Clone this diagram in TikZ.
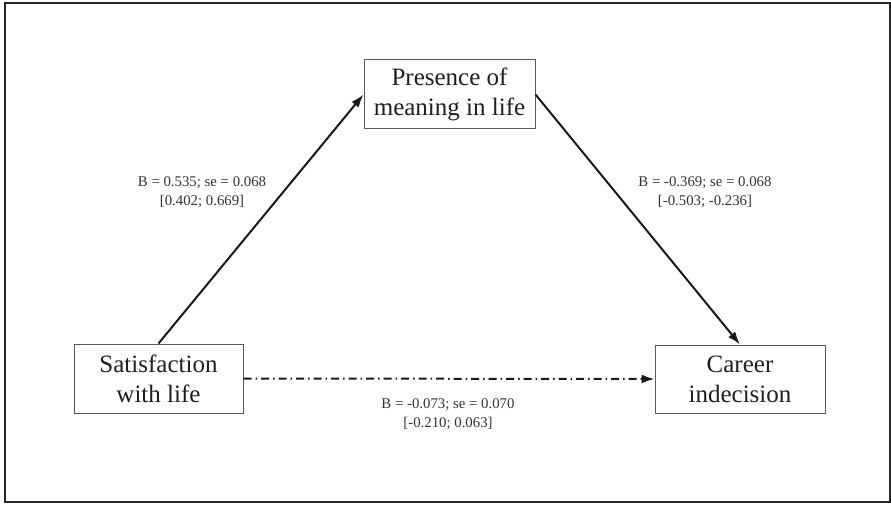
\documentclass[tikz,border=0pt]{standalone}
\usepackage{fontspec}
\setmainfont{Liberation Serif}
\usetikzlibrary{arrows.meta}
\begin{document}
\begin{tikzpicture}[x=1pt,y=1pt,
  varbox/.style={draw=black!65, line width=1pt, fill=white, inner sep=0pt,
    text=black!88, align=center, font=\fontsize{25}{30}\selectfont},
  pathlbl/.style={text=black!80, align=center, font=\fontsize{14.8}{19}\selectfont, inner sep=0pt},
  patharrow/.style={line width=2pt, black!90, -{Latex[length=13pt,width=9pt]}},
  dasharrow/.style={patharrow, dash pattern=on 8pt off 4pt on 1.5pt off 4pt}]
\useasboundingbox (0,0) rectangle (891,504);
\draw[black!85, line width=2pt] (5,2) rectangle (889.5,501);
\node[varbox, minimum width=171pt, minimum height=69pt] (pm) at (449.5,409.5) {Presence of\\meaning in life};
\node[varbox, minimum width=169pt, minimum height=69pt] (sl) at (158.5,125.5) {Satisfaction\\with life};
\node[varbox, minimum width=170pt, minimum height=68pt] (ci) at (740,125) {Career\\indecision};
\draw[patharrow] (sl.north) -- (pm.west);
\draw[patharrow] (pm.east) -- (ci.north);
\draw[dasharrow] (sl.east) -- (ci.west);
\node[pathlbl] (la) at (202,312) {B = 0.535; se = 0.068\\{}[0.402; 0.669]};
\node[pathlbl] (lb) at (705,312) {B = -0.369; se = 0.068\\{}[-0.503; -0.236]};
\node[pathlbl] (lc) at (448,90) {B = -0.073; se = 0.070\\{}[-0.210; 0.063]};
\end{tikzpicture}
\end{document}
